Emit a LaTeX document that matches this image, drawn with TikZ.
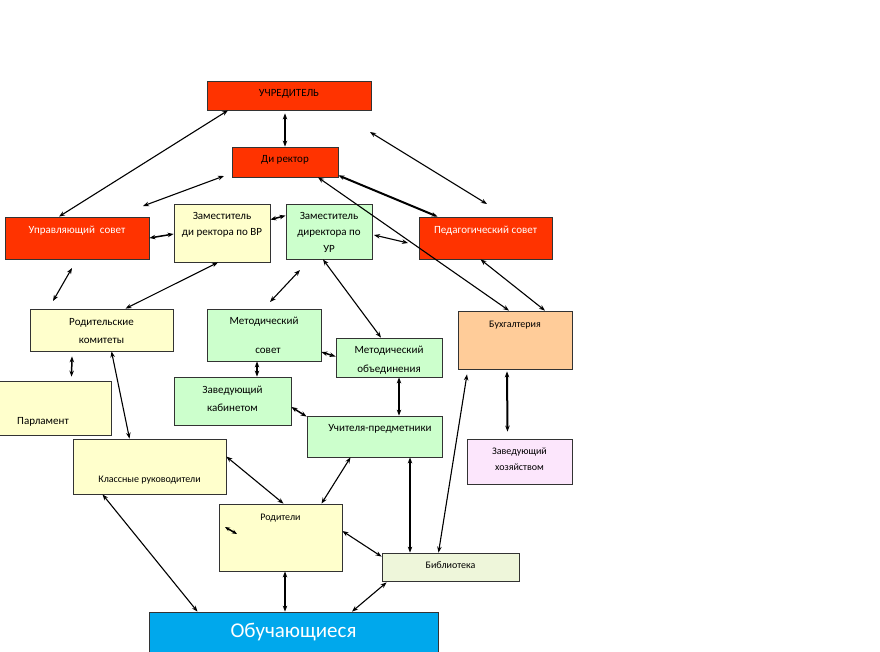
\documentclass[tikz,border=0pt]{standalone}
\usepackage{fontspec}
\setmainfont{Carlito}
\usetikzlibrary{arrows.meta}
\definecolor{cred}{HTML}{FF3300}
\definecolor{cyel}{HTML}{FFFFCC}
\definecolor{cgrn}{HTML}{CCFFCC}
\definecolor{corg}{HTML}{FFCC99}
\definecolor{clav}{HTML}{FCE6FC}
\definecolor{cbib}{HTML}{EEF6DA}
\definecolor{cblu}{HTML}{00A8EC}
\tikzset{
  box/.style={draw=black!80, line width=0.8pt, inner sep=0pt},
  lbl/.style={font=\fontsize{11}{12}\selectfont, inner sep=0pt, anchor=base},
  wlbl/.style={lbl, text=white},
  con/.style={line width=1.1pt, {Stealth[length=6pt,width=4.5pt]}-{Stealth[length=6pt,width=4.5pt]}},
  thk/.style={con, line width=2pt},
}
\newcommand{\bx}[6]{\node[box, fill=#6, minimum width=#4pt, minimum height=#5pt] (#1) at (#2,#3) {};}
\begin{document}
\begin{tikzpicture}[x=1pt,y=-1pt]
\useasboundingbox (0,0) rectangle (880,651);
% boxes
\bx{uch}{289}{95.5}{164}{29}{cred}
\bx{dir}{285}{162}{106}{30}{cred}
\bx{ups}{77}{238}{144}{42}{cred}
\bx{zvr}{222}{233}{96}{58}{cyel}
\bx{zur}{329}{231.5}{86}{55}{cgrn}
\bx{ped}{485.5}{238}{133}{42}{cred}
\bx{rk}{101.5}{330}{143}{42}{cyel}
\bx{ms}{264}{335}{114}{52}{cgrn}
\bx{mo}{389}{357.5}{106}{39}{cgrn}
\bx{bux}{515}{340}{114}{58}{corg}
\bx{par}{55}{408}{112}{54}{cyel}
\bx{zk}{232.5}{401}{117}{48}{cgrn}
\bx{ucp}{374.5}{436.5}{135}{41}{cgrn}
\bx{zx}{519.5}{461.5}{105}{45}{clav}
\bx{kr}{149.5}{466.5}{153}{55}{cyel}
\bx{rod}{280.5}{537.5}{123}{67}{cyel}
\bx{bib}{450.5}{567}{137}{28}{cbib}
\bx{obu}{293.5}{632}{289}{40}{cblu}
% texts
\node[lbl] (t1) at (289,96) {УЧРЕДИТЕЛЬ};
\node[lbl] (t2) at (285,162) {Ди ректор};
\node[wlbl] (t3) at (77,233) {Управляющий\ \ совет};
\node[lbl] (t4) at (222,219) {Заместитель};
\node[lbl] (t5) at (222,235) {ди ректора по ВР};
\node[lbl] (t6) at (329,219) {Заместитель};
\node[lbl] (t7) at (329,235) {директора по};
\node[lbl] (t8) at (329,252) {УР};
\node[wlbl] (t9) at (485.5,233) {Педагогический совет};
\node[lbl] (t10) at (101.5,325) {Родительские};
\node[lbl] (t11) at (101.5,343) {комитеты};
\node[lbl] (t12) at (264,324) {Методический};
\node[lbl] (t13) at (268,353) {совет};
\node[lbl] (t14) at (389,353) {Методический};
\node[lbl] (t15) at (389,372) {объединения};
\node[lbl, font=\fontsize{10}{11}\selectfont] (t16) at (515,327) {Бухгалтерия};
\node[lbl] (t17) at (43,424) {Парламент};
\node[lbl] (t18) at (232.5,393) {Заведующий};
\node[lbl] (t19) at (232.5,411) {кабинетом};
\node[lbl] (t20) at (380,431) {Учителя-предметники};
\node[lbl, font=\fontsize{10}{11}\selectfont] (t21) at (519.5,454) {Заведующий};
\node[lbl, font=\fontsize{10}{11}\selectfont] (t22) at (519.5,470) {хозяйством};
\node[lbl, font=\fontsize{10}{11}\selectfont] (t23) at (149.5,482) {Классные руководители};
\node[lbl, font=\fontsize{10}{11}\selectfont] (t24) at (280.5,520) {Родители};
\node[lbl, font=\fontsize{10}{11}\selectfont] (t25) at (450.5,568) {Библиотека};
\node[wlbl, font=\fontsize{21}{23}\selectfont] (t26) at (293.5,637) {Обучающиеся};
% free-end coordinates
\coordinate (a1) at (370,132); \coordinate (a2) at (487,204);
\coordinate (b1) at (224,176); \coordinate (b2) at (143,206);
\coordinate (c1) at (374,235); \coordinate (c2) at (408,243);
\coordinate (d1) at (72,268);  \coordinate (d2) at (53,301);
\coordinate (e1) at (300,270); \coordinate (e2) at (270,302);
\coordinate (f1) at (225,527); \coordinate (f2) at (237,534);
% connectors
\draw[con] ([xshift=-61pt]uch.south) -- ([xshift=-18pt]ups.north);
\draw[thk, line width=1.3pt] ([yshift=-3pt]uch.south -| dir.north) -- (dir.north);
\draw[con] (a1) -- (a2);
\draw[con] (b1) -- (b2);
\draw[thk] ([yshift=2pt]dir.south east) -- ([xshift=-48pt]ped.north);
\draw[con] ([xshift=33pt]dir.south) -- ([xshift=-6pt]bux.north);
\draw[thk, line width=1.5pt] (ups.east) -- ([yshift=-1pt]zvr.east -| zvr.west);
\draw[thk, line width=1.5pt] ([yshift=-16pt]zvr.north east) -- ([yshift=-12pt]zur.north west);
\draw[con] (c1) -- (c2);
\draw[con] (d1) -- (d2);
\draw[con] ([xshift=-4pt]zvr.south) -- ([xshift=24pt]rk.north);
\draw[con] (e1) -- (e2);
\draw[con] ([xshift=-6pt]zur.south) -- ([xshift=-8pt]mo.north);
\draw[con] ([xshift=-5pt]ped.south) -- ([xshift=30pt]bux.north);
\draw[thk, line width=1.5pt] ([yshift=-17pt]ms.east) -- ([yshift=1pt]mo.west);
\draw[thk, line width=1.5pt] ([xshift=-29.5pt,yshift=-5pt]rk.south) -- ([xshift=16.5pt,yshift=4pt]par.north);
\draw[con] ([xshift=10pt]rk.south) -- ([xshift=-20pt]kr.north);
\draw[thk, line width=1.5pt] ([xshift=-7pt]ms.south) -- ([xshift=24.5pt]zk.north);
\draw[thk] ([xshift=10pt]mo.south) -- ([xshift=24.5pt]ucp.north);
\draw[thk, line width=1.5pt] ([yshift=-6pt]zk.east) -- ([yshift=-1pt]ucp.north west);
\draw[thk] ([xshift=-8pt,yshift=-2pt]bux.south) -- ([xshift=-12pt,yshift=7pt]zx.north);
\draw[con] ([xshift=-48pt,yshift=-5pt]bux.south) -- ([xshift=-12pt]bib.north);
\draw[con] ([yshift=-18pt]kr.north east) -- ([xshift=3pt]rod.north);
\draw[con] ([xshift=-24pt]ucp.south) -- ([xshift=41pt]rod.north);
\draw[thk] ([xshift=35.5pt]ucp.south) -- ([xshift=-40.5pt]bib.north);
\draw[con] ([xshift=-47pt]kr.south) -- ([xshift=-96pt]obu.north);
\draw[con] ([xshift=4.5pt]rod.south) -- ([xshift=-8.5pt]obu.north);
\draw[con] ([yshift=6.5pt]rod.east) -- ([yshift=-4pt]bib.north west);
\coordinate (g1) at ([xshift=5pt,yshift=-1pt]bib.south west);
\draw[con] (g1) -- ([xshift=58.5pt]obu.north);
\draw[thk, line width=1.5pt, {Stealth[length=5pt,width=4pt]}-{Stealth[length=5pt,width=4pt]}] (f1) -- (f2);
\end{tikzpicture}
\end{document}
